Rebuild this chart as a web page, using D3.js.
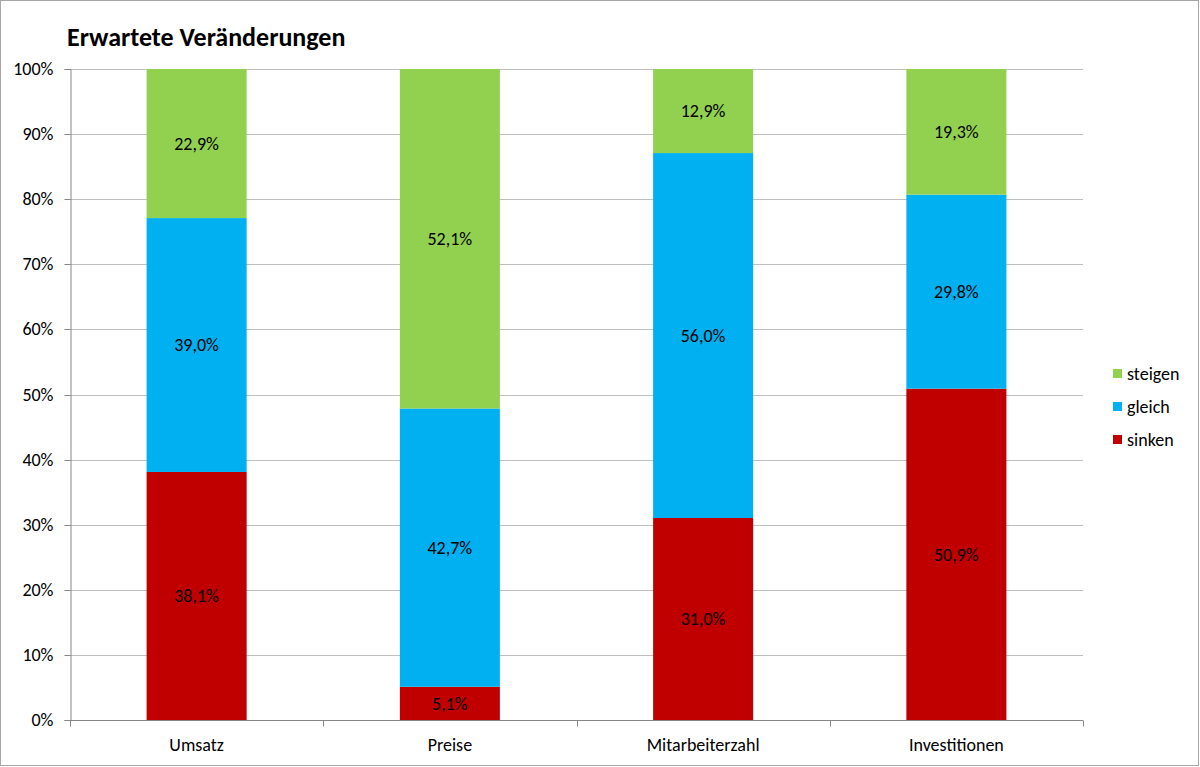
<!DOCTYPE html>
<html>
<head>
<meta charset="utf-8">
<title>Erwartete Veränderungen</title>
<style>
  body { margin: 0; background: #fff; }
  svg { display: block; font-family: Carlito, Calibri, Lato, sans-serif; }
</style>
</head>
<body>
<svg id="chart" width="1200" height="767"></svg>
<script src="https://d3js.org/d3.v7.min.js"></script>
<script>
// Werte aus dem Bild (Prozent)
var kategorien = ["Umsatz", "Preise", "Mitarbeiterzahl", "Investitionen"];
var reihen = ["sinken", "gleich", "steigen"];
var sinken = [38.1, 5.1, 31.0, 50.9];
var gleich = [39.0, 42.7, 56.0, 29.8];
var steigen = [22.9, 52.1, 12.9, 19.3];
var farben = ["#c00000", "#00b0f0", "#92d050"];
var yTicks = [0, 0.1, 0.2, 0.3, 0.4, 0.5, 0.6, 0.7, 0.8, 0.9, 1];

var werte = { sinken: sinken, gleich: gleich, steigen: steigen };

var tabelle = kategorien.map(function (k, i) {
    var row = { kat: k };
    reihen.forEach(function (r) { row[r] = werte[r][i]; });
    return row;
});

var svg = d3.select("#chart");
var W = 1200, H = 767;
var m = { left: 70, right: 117, top: 69, bottom: 47 };

// Rahmen
svg.append("rect")
    .attr("x", 0.5).attr("y", 0.5)
    .attr("width", W - 2).attr("height", H - 2)
    .attr("fill", "#fff").attr("stroke", "#a6a6a6");

var x = d3.scaleBand()
    .domain(kategorien)
    .range([m.left, W - m.right])
    .paddingInner(0.605)
    .paddingOuter(0.3025);

var y = d3.scaleLinear()
    .domain([0, 1])
    .range([H - m.bottom, m.top]);

// Gitterlinien
svg.append("g")
    .selectAll("line")
    .data(yTicks.slice(1))
    .enter()
    .append("line")
    .attr("x1", m.left).attr("x2", W - m.right)
    .attr("y1", function (d) { return Math.round(y(d)) + 0.5; })
    .attr("y2", function (d) { return Math.round(y(d)) + 0.5; })
    .attr("stroke", "#bfbfbf");

// gestapelte Balken (100%)
var stack = d3.stack().keys(reihen).offset(d3.stackOffsetExpand);
var serien = stack(tabelle);

var gruppen = svg.append("g")
    .selectAll("g")
    .data(serien)
    .enter()
    .append("g")
    .attr("fill", function (d, i) { return farben[i]; });

gruppen.selectAll("rect")
    .data(function (d) { return d; })
    .enter()
    .append("rect")
    .attr("x", function (d) { return x(d.data.kat); })
    .attr("width", x.bandwidth())
    .attr("y", function (d) { return y(d[1]); })
    .attr("height", function (d) { return y(d[0]) - y(d[1]); });

// Datenbeschriftungen
gruppen.each(function (s) {
    var key = s.key;
    d3.select(this).selectAll("text")
        .data(s)
        .enter()
        .append("text")
        .attr("x", function (d) { return x(d.data.kat) + x.bandwidth() / 2; })
        .attr("y", function (d) { return (y(d[0]) + y(d[1])) / 2; })
        .attr("dy", "0.35em")
        .attr("text-anchor", "middle")
        .attr("fill", "#000")
        .style("font-size", "18px")
        .text(function (d) { return d.data[key].toFixed(1).replace(".", ",") + "%"; });
});

// Y-Achse
var yAxis = d3.axisLeft(y)
    .tickValues(yTicks)
    .tickSize(6)
    .tickPadding(11)
    .tickFormat(function (d) { return Math.round(d * 100) + "%"; });

var gy = svg.append("g")
    .attr("transform", "translate(" + (m.left + 0.5) + ",0)")
    .call(yAxis)
    .attr("font-family", null)
    .attr("font-size", null);
gy.select(".domain").attr("stroke", "#868686");
gy.selectAll(".tick line").attr("stroke", "#868686");
gy.selectAll(".tick text").style("font-size", "18px").attr("fill", "#000");
gy.selectAll(".tick").attr("transform", function (d) {
    return "translate(0," + (Math.round(y(d)) + 0.5) + ")";
});

// X-Achse
var xAxis = d3.axisBottom(x).tickSize(0).tickPadding(18);
var gx = svg.append("g")
    .attr("transform", "translate(0," + (H - m.bottom + 0.5) + ")")
    .call(xAxis)
    .attr("font-family", null)
    .attr("font-size", null);
gx.select(".domain").attr("stroke", "#868686").attr("d", "M" + m.left + ",0H" + (W - m.right));
gx.selectAll(".tick text").style("font-size", "18px").attr("fill", "#000");

// Teilstriche zwischen den Kategorien
var grenzen = d3.range(kategorien.length + 1).map(function (i) { return m.left + i * (W - m.left - m.right) / kategorien.length; });
gx.selectAll(".grenze")
    .data(grenzen)
    .enter()
    .append("line")
    .attr("class", "grenze")
    .attr("x1", function (d) { return Math.round(d) + 0.5; })
    .attr("x2", function (d) { return Math.round(d) + 0.5; })
    .attr("y1", 0).attr("y2", 6)
    .attr("stroke", "#868686");

// Titel
svg.append("text")
    .attr("x", 67).attr("y", 46)
    .style("font-size", "26px")
    .style("font-weight", "bold")
    .text("Erwartete Veränderungen");

// Legende (steigen oben)
var legende = svg.append("g")
    .attr("transform", "translate(1113,374)");
var legEintraege = reihen.slice().reverse();
var li = legende.selectAll("g")
    .data(legEintraege)
    .enter()
    .append("g")
    .attr("transform", function (d, i) { return "translate(0," + (i * 33) + ")"; });
li.append("rect")
    .attr("x", 0).attr("y", -5)
    .attr("width", 9).attr("height", 9)
    .attr("fill", function (d) { return farben[reihen.indexOf(d)]; });
li.append("text")
    .attr("x", 14).attr("y", 0)
    .attr("dy", "0.35em")
    .style("font-size", "18px")
    .text(function (d) { return d; });
</script>
</body>
</html>
